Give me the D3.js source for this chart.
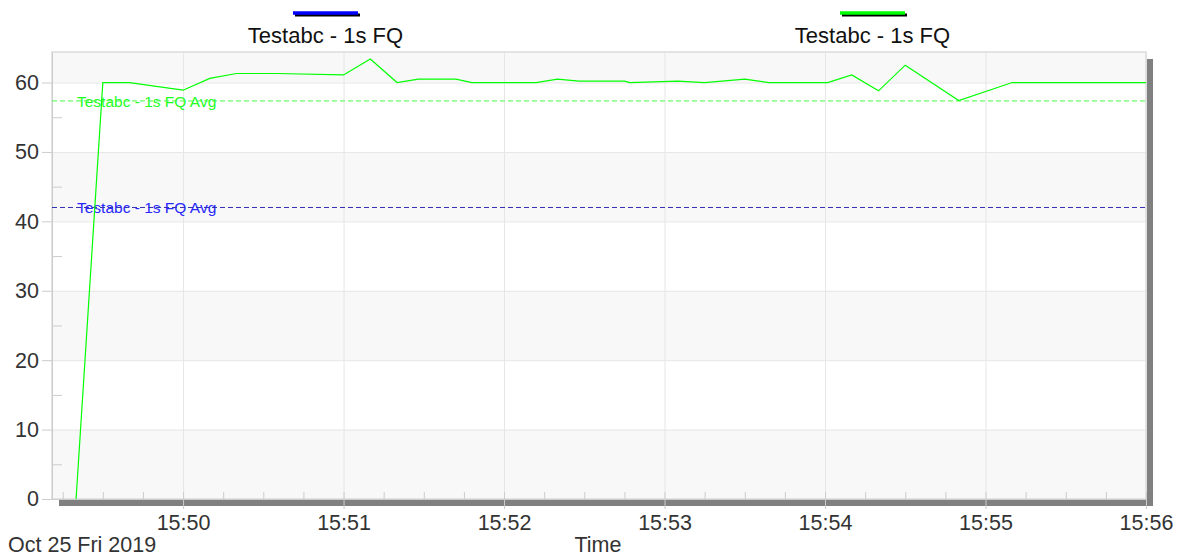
<!DOCTYPE html>
<html lang="en">
<head>
<meta charset="utf-8">
<title>Testabc - 1s FQ</title>
<style>
  body { margin: 0; background: #fff; }
  svg { display: block; font-family: Arial, "Liberation Sans", sans-serif; }
  .tick text { fill: #333; font-size: 21.5px; }
  .axis path { stroke: #ccc; }
  .axis line { stroke: #ccc; }
  .grid line { stroke: #e6e6e6; }
</style>
</head>
<body>
<svg width="1179" height="557"></svg>
<script src="https://d3js.org/d3.v7.min.js"></script>
<script>
  // series (green one is the only visible line)
  const day = "2019-10-25 ";
  const times = ["15:49:20", "15:49:30", "15:49:40", "15:50:00", "15:50:10", "15:50:20",
    "15:50:35", "15:51:00", "15:51:10", "15:51:20", "15:51:28", "15:51:42", "15:51:48",
    "15:52:12", "15:52:20", "15:52:28", "15:52:45", "15:52:47", "15:53:05", "15:53:15",
    "15:53:30", "15:53:39", "15:54:01", "15:54:10", "15:54:20", "15:54:30", "15:54:50",
    "15:55:10", "15:56:00"];
  const values = [0, 60, 60, 58.9, 60.6, 61.3, 61.3, 61.1, 63.4, 60.0, 60.5, 60.5, 60.0,
    60.0, 60.5, 60.2, 60.2, 60.0, 60.2, 60.0, 60.5, 60.0, 60.0, 61.1, 58.8, 62.5, 57.4,
    60.0, 60.0];

  const seriesNames = ["Testabc - 1s FQ", "Testabc - 1s FQ"];
  const seriesColors = ["#0000ff", "#00ff00"];
  const avgValues = [42.0, 57.35];
  const avgTextColors = ["#2828ff", "#22ff22"];
  const avgLineColors = ["#3030b0", "#44ff44"];
  const avgLabel = "Testabc - 1s FQ Avg";

  const timeDomain = ["15:49:11", "15:56:00"];
  const yMax = 64.4;
  const yMajor = [0, 10, 20, 30, 40, 50, 60];
  const yMinor = [5, 15, 25, 35, 45, 55];
  const dateLabel = "Oct 25 Fri 2019";
  const xTitle = "Time";

  const parse = d3.timeParse("%Y-%m-%d %H:%M:%S");
  const data = times.map((t, i) => ({ t: parse(day + t), v: values[i] }));

  const svg = d3.select("svg");
  const plot = { left: 52, top: 52, right: 1146, bottom: 499 };

  const x = d3.scaleTime()
    .domain(timeDomain.map(t => parse(day + t)))
    .range([plot.left, plot.right]);
  const y = d3.scaleLinear()
    .domain([0, yMax])
    .range([plot.bottom, plot.top]);

  // drop shadow behind the plot
  svg.append("rect")
    .attr("x", plot.left + 7).attr("y", plot.top + 7)
    .attr("width", plot.right - plot.left).attr("height", plot.bottom - plot.top)
    .attr("fill", "#808080");

  svg.append("rect")
    .attr("x", plot.left).attr("y", plot.top)
    .attr("width", plot.right - plot.left).attr("height", plot.bottom - plot.top)
    .attr("fill", "#fff");

  // alternating bands
  const bandEdges = yMajor.concat([yMax]);
  for (let i = 0; i < bandEdges.length - 1; i++) {
    if (i % 2 === 0) {
      svg.append("rect")
        .attr("x", plot.left).attr("width", plot.right - plot.left)
        .attr("y", y(bandEdges[i + 1]))
        .attr("height", y(bandEdges[i]) - y(bandEdges[i + 1]))
        .attr("fill", "#f8f8f8");
    }
  }

  // gridlines
  svg.append("g").attr("class", "grid")
    .attr("transform", `translate(0,${plot.bottom})`)
    .call(d3.axisBottom(x).ticks(d3.timeMinute.every(1)).tickSize(-(plot.bottom - plot.top)).tickFormat(""))
    .call(g => g.select(".domain").remove());
  svg.append("g").attr("class", "grid")
    .attr("transform", `translate(${plot.left},0)`)
    .call(d3.axisLeft(y).tickValues(yMajor.slice(1)).tickSize(-(plot.right - plot.left)).tickFormat(""))
    .call(g => g.select(".domain").remove());

  // plot border
  svg.append("rect")
    .attr("x", plot.left).attr("y", plot.top)
    .attr("width", plot.right - plot.left).attr("height", plot.bottom - plot.top)
    .attr("fill", "none").attr("stroke", "#dcdcdc").attr("stroke-width", 1.5);

  // minor ticks
  svg.append("g").attr("class", "axis")
    .attr("transform", `translate(0,${plot.bottom})`)
    .call(d3.axisBottom(x).ticks(d3.timeSecond.every(15)).tickSize(-7).tickFormat(""))
    .call(g => g.select(".domain").remove());
  svg.append("g").attr("class", "axis")
    .attr("transform", `translate(${plot.left},0)`)
    .call(d3.axisLeft(y).tickValues(yMinor).tickSize(-10).tickFormat(""))
    .call(g => g.select(".domain").remove());

  // main axes
  svg.append("g").attr("class", "axis")
    .attr("transform", `translate(0,${plot.bottom})`)
    .call(d3.axisBottom(x).ticks(d3.timeMinute.every(1)).tickFormat(d3.timeFormat("%H:%M"))
      .tickSize(10).tickSizeOuter(0).tickPadding(6))
    .call(g => g.selectAll("text").attr("font-family", null).attr("font-size", null));
  svg.append("g").attr("class", "axis")
    .attr("transform", `translate(${plot.left},0)`)
    .call(d3.axisLeft(y).tickValues(yMajor).tickSize(10).tickSizeOuter(0).tickPadding(3))
    .call(g => g.selectAll("text").attr("font-family", null).attr("font-size", null));

  // averages
  avgValues.forEach((a, i) => {
    svg.append("text")
      .attr("x", 77).attr("y", y(a)).attr("dy", "0.36em")
      .attr("font-size", 15.5)
      .attr("fill", avgTextColors[i])
      .text(avgLabel);
    svg.append("line")
      .attr("x1", plot.left).attr("x2", plot.right)
      .attr("y1", y(a)).attr("y2", y(a))
      .attr("stroke", avgLineColors[i])
      .attr("stroke-width", 1)
      .attr("stroke-dasharray", "5,3");
  });

  // series line
  svg.append("path")
    .datum(data)
    .attr("fill", "none")
    .attr("stroke", seriesColors[1])
    .attr("stroke-width", 1.2)
    .attr("d", d3.line().x(d => x(d.t)).y(d => y(d.v)));

  // legend
  const legendX = [293, 840];
  seriesNames.forEach((name, i) => {
    const g = svg.append("g");
    g.append("line")
      .attr("x1", legendX[i] + 2).attr("x2", legendX[i] + 67)
      .attr("y1", 15).attr("y2", 15)
      .attr("stroke", "#000").attr("stroke-width", 3);
    g.append("line")
      .attr("x1", legendX[i]).attr("x2", legendX[i] + 65)
      .attr("y1", 13).attr("y2", 13)
      .attr("stroke", seriesColors[i]).attr("stroke-width", 3.5);
    g.append("text")
      .attr("x", legendX[i] + 32.5).attr("y", 43)
      .attr("text-anchor", "middle")
      .attr("font-size", 22)
      .attr("fill", "#111")
      .text(name);
  });

  // bottom labels
  svg.append("text")
    .attr("x", 8).attr("y", 552)
    .attr("font-size", 21.5).attr("fill", "#333")
    .text(dateLabel);
  svg.append("text")
    .attr("x", 598).attr("y", 552)
    .attr("text-anchor", "middle")
    .attr("font-size", 21.5).attr("fill", "#333")
    .text(xTitle);
</script>
</body>
</html>
